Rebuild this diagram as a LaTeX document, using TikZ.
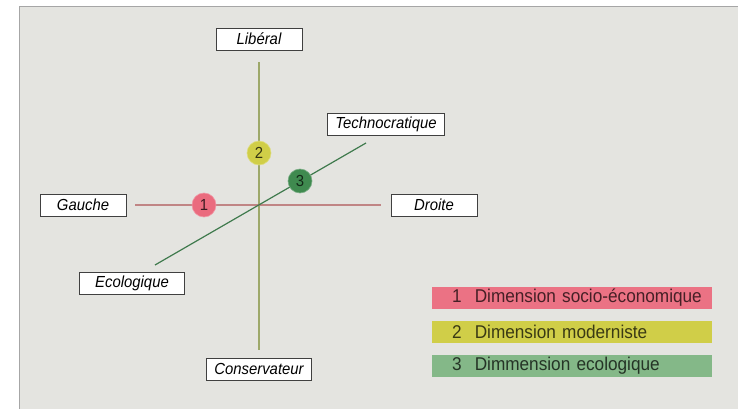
\documentclass[tikz,border=0pt]{standalone}
\usepackage{fontspec}
\setmainfont{Liberation Sans}
\newfontfamily\condfont[FakeStretch=0.93]{Liberation Sans}
\usetikzlibrary{positioning}

\definecolor{panel}{HTML}{E4E4E0}
\definecolor{socio}{HTML}{EA6B7E}
\definecolor{moder}{HTML}{D0CE48}
\definecolor{ecolo}{HTML}{3F8A4F}
\definecolor{ecobar}{HTML}{84B888}
\definecolor{hline}{HTML}{C08585}
\definecolor{vline}{HTML}{9DA86A}
\definecolor{dline}{HTML}{3F7A4D}

\begin{document}
\begin{tikzpicture}[x=1pt,y=-1pt,node distance=170pt,
  axisbox/.style={draw=black!75,line width=0.9pt,fill=white,font=\condfont\itshape\fontsize{16}{18}\selectfont,
                  minimum width=86pt,minimum height=22pt,inner xsep=8pt,inner ysep=0pt},
  dimdot/.style={circle,line width=0.6pt,minimum size=24pt,inner sep=0pt,font=\condfont\fontsize{16}{18}\selectfont},
  legbar/.style={anchor=west,minimum width=280pt,minimum height=22pt,inner xsep=0pt,inner ysep=0pt,
                 text width=280pt,align=left,font=\condfont\fontsize{18.5}{20}\selectfont}]
\useasboundingbox (0,0) rectangle (738,409);
\fill[panel] (19,7) rectangle (738,409);
\draw[gray!70,line width=1pt] (19,409) -- (19,7) -- (738,7);

% axes
\coordinate (o) at (259,205);
\node[axisbox] (lib)  [above of=o,node distance=166pt] {Libéral};
\node[axisbox] (cons) [below of=o,node distance=164pt] {Conservateur};
\node[axisbox] (gau)  [left of=o,node distance=176pt]  {Gauche};
\node[axisbox] (dro)  [right of=o,node distance=175pt] {Droite};
\node[axisbox] (tech) at (386,124) {Technocratique};
\node[axisbox,minimum width=105pt] (eco) at (132,283) {Ecologique};
\coordinate (ecoend)  at (155,265);
\coordinate (techend) at (366,143);

\draw[vline,line width=1.4pt,shorten <=12pt,shorten >=8pt] (lib) -- (cons);
\draw[hline,line width=1.2pt,shorten <=9pt,shorten >=10pt] (gau) -- (dro);
\draw[dline,line width=1.2pt] (ecoend) -- (techend);

% dimension markers
\node[dimdot,fill=socio,draw=socio!70!white,text=black!75!socio] (d1) at (204,205) {1};
\node[dimdot,fill=moder,draw=moder!70!white,text=black!75!moder] (d2) at (259,153) {2};
\node[dimdot,fill=ecolo,draw=ecolo!70!white,text=black!70!ecolo] (d3) at (300,181) {3};

% legend
\node[legbar,fill=socio!95!white,text=black!70!socio] (leg1) at (432,298) {\hspace*{20pt}1\hspace{13pt}Dimension socio-économique};
\node[legbar,fill=moder,text=black!72!moder]          (leg2) at (432,332) {\hspace*{20pt}2\hspace{13pt}Dimension moderniste};
\node[legbar,fill=ecobar,text=black!72!ecobar]        (leg3) at (432,366) {\hspace*{20pt}3\hspace{13pt}Dimmension ecologique};
\end{tikzpicture}
\end{document}
